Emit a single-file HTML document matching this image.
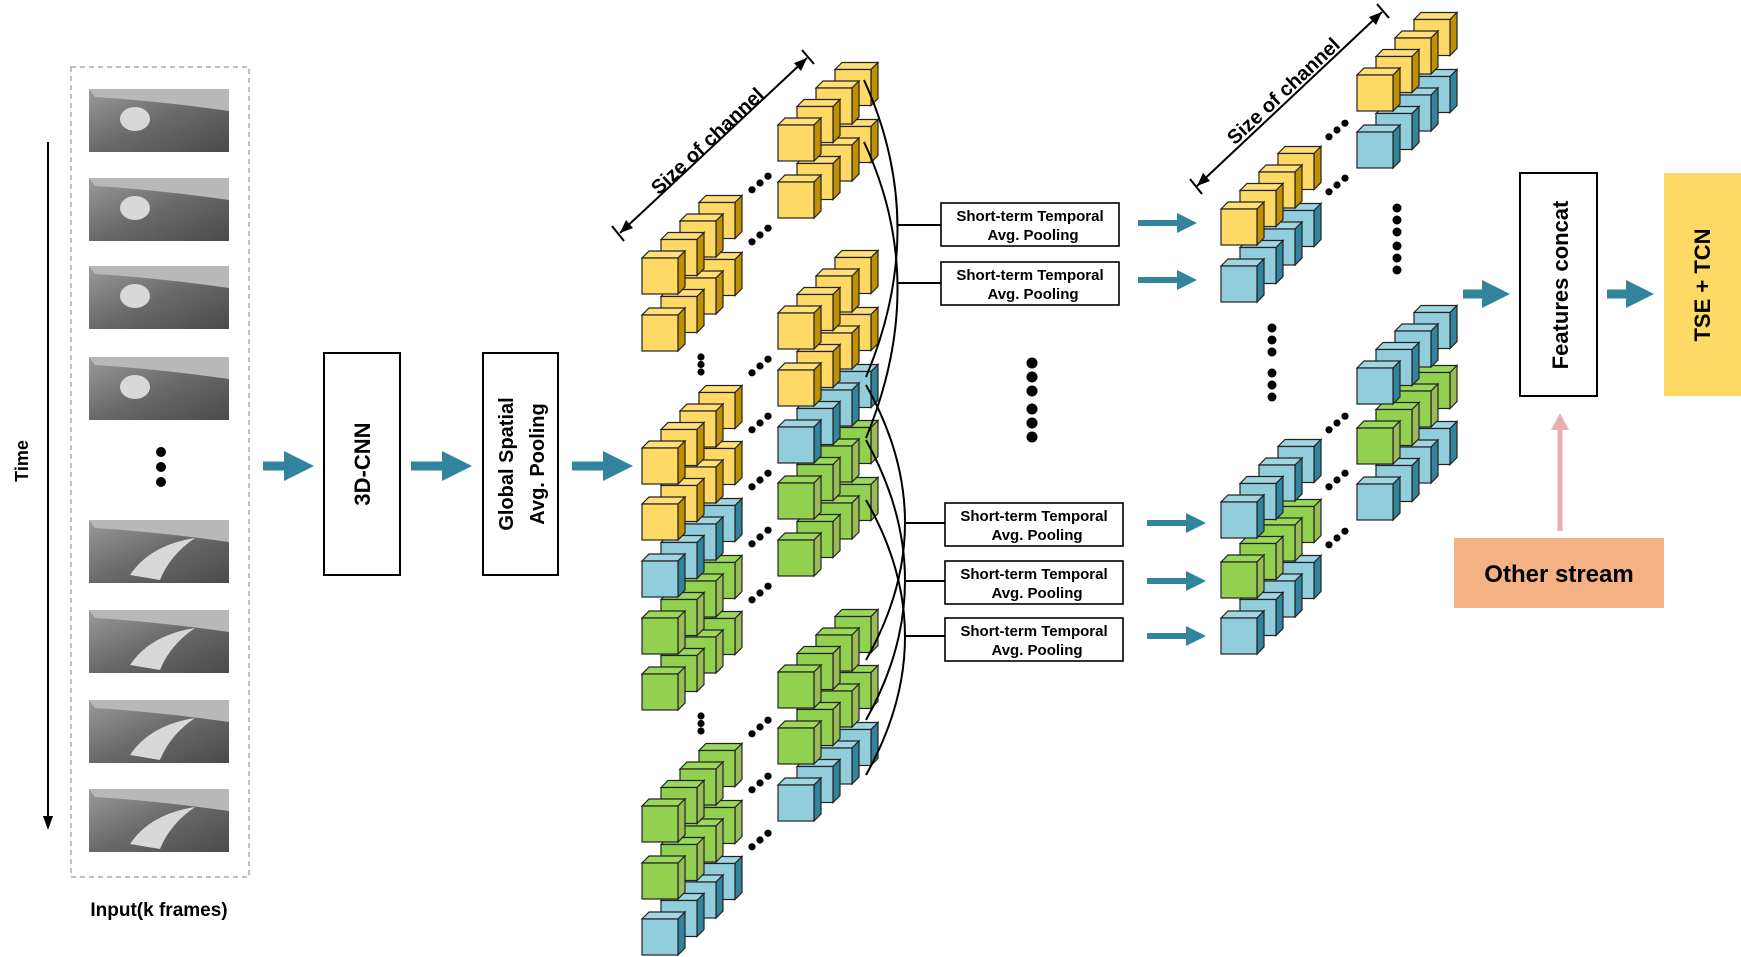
<!DOCTYPE html>
<html><head><meta charset="utf-8">
<style>
html,body{margin:0;padding:0;background:#fff;}
svg{display:block;}
text{font-family:"Liberation Sans",sans-serif;font-weight:bold;fill:#000;}
</style></head>
<body>
<svg id="s" width="1741" height="957" viewBox="0 0 1741 957" xmlns="http://www.w3.org/2000/svg">
<defs>
<linearGradient id="fr" x1="0" y1="0" x2="1" y2="1">
<stop offset="0" stop-color="#9a9a9a"/><stop offset="0.5" stop-color="#6a6a6a"/><stop offset="1" stop-color="#4a4a4a"/>
</linearGradient>
</defs>
<!-- input dashed box -->
<rect x="71" y="67" width="178" height="810" fill="none" stroke="#999" stroke-width="1.2" stroke-dasharray="5,4"/>
<g id="frames"></g>
<circle cx="161" cy="452" r="5"/><circle cx="161" cy="467" r="5"/><circle cx="161" cy="482" r="5"/>
<text x="159" y="916" font-size="19" text-anchor="middle">Input(k frames)</text>
<!-- time arrow -->
<line x1="48" y1="142" x2="48" y2="818" stroke="#000" stroke-width="2"/>
<polygon points="43,816 53,816 48,830" fill="#000"/>
<text transform="translate(28,461) rotate(-90)" font-size="18" text-anchor="middle">Time</text>
<!-- boxes -->
<rect x="324" y="353" width="76" height="222" fill="#fff" stroke="#000" stroke-width="2"/>
<text transform="translate(370,464) rotate(-90)" font-size="22" text-anchor="middle">3D-CNN</text>
<rect x="483" y="353" width="75" height="222" fill="#fff" stroke="#000" stroke-width="2"/>
<text transform="translate(513,464) rotate(-90)" font-size="20" text-anchor="middle">Global Spatial</text>
<text transform="translate(544,464) rotate(-90)" font-size="20" text-anchor="middle">Avg. Pooling</text>
<g id="cubes"></g>
<g id="dots"></g>
<!-- size of channel arrows -->
<g stroke="#000" stroke-width="2">
<line x1="620" y1="233" x2="807" y2="58"/>
<line x1="612" y1="226" x2="624" y2="241"/>
<line x1="802" y1="50" x2="814" y2="64"/>
<line x1="1197" y1="186" x2="1382" y2="12"/>
<line x1="1190" y1="179" x2="1202" y2="194"/>
<line x1="1377" y1="4" x2="1389" y2="18"/>
</g>
<polygon points="620,233 626,220 633,228" fill="#000"/>
<polygon points="807,58 794,63 801,71" fill="#000"/>
<polygon points="1197,186 1203,173 1210,181" fill="#000"/>
<polygon points="1382,12 1369,17 1376,25" fill="#000"/>
<text transform="translate(712,146) rotate(-43)" font-size="20" text-anchor="middle">Size of channel</text>
<text transform="translate(1288,96) rotate(-43)" font-size="20" text-anchor="middle">Size of channel</text>
<!-- connector arcs -->
<g fill="none" stroke="#000" stroke-width="2">
<path d="M864,80 Q930,225 866,377"/>
<path d="M864,142 Q930,283 866,438"/>
<line x1="897" y1="225" x2="941" y2="225"/>
<line x1="897" y1="283" x2="941" y2="283"/>
<path d="M866,385 Q944,523 866,660"/>
<path d="M866,440 Q944,581 866,720"/>
<path d="M866,500 Q944,636 866,775"/>
<line x1="904" y1="523" x2="945" y2="523"/>
<line x1="904" y1="581" x2="945" y2="581"/>
<line x1="904" y1="636" x2="945" y2="636"/>
</g>
<g id="stap"></g>
<!-- big middle dots -->
<g fill="#000">
<circle cx="1032" cy="363" r="5.5"/><circle cx="1032" cy="377" r="5.5"/><circle cx="1032" cy="391" r="5.5"/>
<circle cx="1032" cy="409" r="5.5"/><circle cx="1032" cy="423" r="5.5"/><circle cx="1032" cy="437" r="5.5"/>
</g>
<!-- features concat etc -->
<rect x="1520" y="173" width="77" height="223" fill="#fff" stroke="#000" stroke-width="2"/>
<text transform="translate(1568,285) rotate(-90)" font-size="22" text-anchor="middle">Features concat</text>
<rect x="1664" y="173" width="77" height="223" fill="#FFD966"/>
<text transform="translate(1710,285) rotate(-90)" font-size="22" text-anchor="middle">TSE + TCN</text>
<rect x="1454" y="538" width="210" height="70" fill="#F4B183"/>
<text x="1559" y="582" font-size="24" text-anchor="middle">Other stream</text>
<line x1="1560" y1="531" x2="1560" y2="428" stroke="#E8AFAF" stroke-width="5"/>
<polygon points="1551,430 1569,430 1560,413" fill="#E8AFAF"/>
<g id="arrows"></g>
</svg>
<script>
var NS="http://www.w3.org/2000/svg";
function el(p,t,a){var e=document.createElementNS(NS,t);for(var k in a)e.setAttribute(k,a[k]);p.appendChild(e);return e;}
var C={Y:["#FFD966","#FFDF7A","#BF9000"],B:["#92CDDC","#A0D5E2","#31849B"],G:["#92D050","#9AD85A","#9BBB59"]};
var cg=document.getElementById("cubes");
function cube(x,y,c){var s=36,d=7,col=C[c];
 el(cg,"polygon",{points:[x,y,x+d,y-d,x+s+d,y-d,x+s,y].join(","),fill:col[1],stroke:"#222","stroke-width":1.2});
 el(cg,"polygon",{points:[x+s,y,x+s+d,y-d,x+s+d,y+s-d,x+s,y+s].join(","),fill:col[2],stroke:"#222","stroke-width":1.2});
 el(cg,"rect",{x:x,y:y,width:s,height:s,fill:col[0],stroke:"#222","stroke-width":1.2});}
function stack(x,rows){for(var i=3;i>=0;i--)for(var r=0;r<rows.length;r++)cube(x+19*i,rows[r][0]-18.5*i,rows[r][1]);}
stack(642,[[258,"Y"],[315,"Y"]]);
stack(642,[[448,"Y"],[504,"Y"],[561,"B"],[618,"G"],[674,"G"]]);
stack(642,[[806,"G"],[863,"G"],[919,"B"]]);
stack(778,[[125,"Y"],[182,"Y"]]);
stack(778,[[313,"Y"],[370,"Y"],[427,"B"],[483,"G"],[540,"G"]]);
stack(778,[[672,"G"],[728,"G"],[785,"B"]]);
stack(1221,[[209,"Y"],[266,"B"]]);
stack(1221,[[502,"B"],[562,"G"],[618,"B"]]);
stack(1357,[[75,"Y"],[132,"B"]]);
stack(1357,[[368,"B"],[428,"G"],[484,"B"]]);
var dg=document.getElementById("dots");
function tri(x,y){[-8,0,8].forEach(function(o){el(dg,"circle",{cx:x+o,cy:y-o*0.85,r:3.6,fill:"#000"});});}
[183,235,366,423,480,537,593,727,783,840].forEach(function(y){tri(760,y);});
[130,185,423,480,538].forEach(function(y){tri(1337,y);});
function vd(x,y,n,sp,r){for(var i=0;i<n;i++)el(dg,"circle",{cx:x,cy:y+i*sp,r:r,fill:"#000"});}
vd(701,357,3,7.5,3.6);vd(701,716,3,7.5,3.6);
vd(1397,208,3,12,4.5);vd(1397,246,3,12,4.5);
vd(1272,328,3,12,4.5);vd(1272,373,3,12,4.5);
var sg=document.getElementById("stap");
[[941,203],[941,262],[945,503],[945,561],[945,618]].forEach(function(p){
 el(sg,"rect",{x:p[0],y:p[1],width:178,height:43,fill:"#fff",stroke:"#000","stroke-width":1.6});
 var t=el(sg,"text",{x:p[0]+89,y:p[1]+18,"font-size":15,"text-anchor":"middle"});t.textContent="Short-term Temporal";
 t=el(sg,"text",{x:p[0]+92,y:p[1]+37,"font-size":15,"text-anchor":"middle"});t.textContent="Avg. Pooling";});
var ag=document.getElementById("arrows");
function arr(x1,x2,y,w,h){el(ag,"rect",{x:x1,y:y-w/2,width:x2-x1-h*0.9,height:w,fill:"#31849B"});
 el(ag,"polygon",{points:[x2-h,y-h/2,x2,y,x2-h,y+h/2].join(","),fill:"#31849B"});}
arr(263,314,466,9,30);arr(411,472,466,9,30);arr(572,633,466,9,30);
arr(1138,1197,223,6,20);arr(1138,1197,280,6,20);
arr(1147,1206,523,6,20);arr(1147,1206,581,6,20);arr(1147,1206,636,6,20);
arr(1463,1510,294,9,28);arr(1607,1654,294,9,28);
var fg=document.getElementById("frames");
[89,178,266,357,520,610,700,789].forEach(function(y,i){
 el(fg,"rect",{x:89,y:y,width:140,height:63,fill:"url(#fr)"});
 el(fg,"path",{d:"M89,"+y+" L229,"+y+" L229,"+(y+22)+" Q160,"+(y+12)+" 95,"+(y+8)+" Z",fill:"#b8b8b8"});
 if(i<4) el(fg,"ellipse",{cx:135,cy:y+30,rx:15,ry:12,fill:"#d8d8d8"});
 else el(fg,"path",{d:"M130,"+(y+55)+" Q150,"+(y+25)+" 195,"+(y+18)+" Q170,"+(y+35)+" 160,"+(y+60)+" Z",fill:"#d8d8d8"});
});
</script>
</body></html>
